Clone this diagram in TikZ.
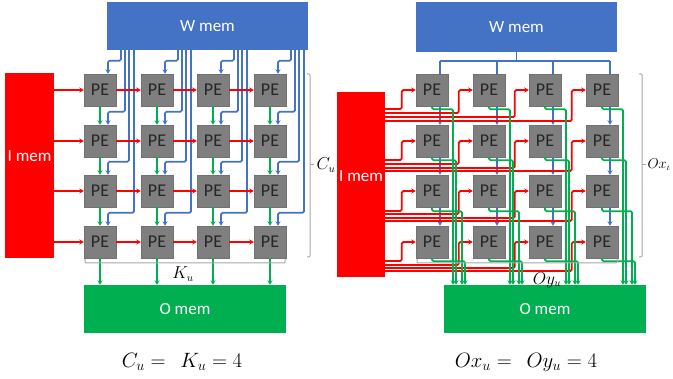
\documentclass[tikz,border=0pt]{standalone}
\usepackage{fontspec}
\setmainfont{Carlito}
\usetikzlibrary{calc,arrows.meta}
\definecolor{bluec}{HTML}{4472C4}
\definecolor{greenc}{HTML}{00B050}
\definecolor{gridgray}{HTML}{7F7F7F}
\definecolor{bracec}{HTML}{A6A6A6}
\tikzset{
  pe/.style={fill=gridgray,draw=gridgray!90!black,line width=.4pt,minimum width=32pt,minimum height=32pt,inner sep=0pt,font=\fontsize{18}{18}\selectfont,text=black!85},
  mem/.style={inner sep=0pt,font=\fontsize{17}{17}\selectfont,text=white},
  wire/.style={line width=1.7pt,rounded corners=1.5pt,-{Stealth[length=4.5pt,width=5pt]}},
  bluew/.style={wire,draw=bluec},
  redw/.style={wire,draw=red},
  greenw/.style={wire,draw=greenc},
  busw/.style={line width=1.7pt,draw=bluec},
  brk/.style={draw=bracec,line width=1pt,rounded corners=1pt},
  lab/.style={inner sep=0pt,font=\fontsize{16}{16}\selectfont},
  eqn/.style={inner sep=0pt,font=\fontsize{20}{20}\selectfont}
}
\begin{document}
\begin{tikzpicture}[x=1pt,y=-1pt]
\useasboundingbox (0,0) rectangle (673,379);
% memories
\node[mem,fill=bluec,minimum width=201pt,minimum height=48pt] (WL) at (207.5,26) {W mem};
\node[mem,fill=red,minimum width=49pt,minimum height=185pt] (IL) at (29.5,165.5) {};
\node[mem] (ILt) at (29.5,156) {I mem};
\node[mem,fill=greenc,minimum width=202pt,minimum height=48pt] (OL) at (185,309) {O mem};
\node[mem,fill=bluec,minimum width=201pt,minimum height=50pt] (WR) at (516.5,27) {W mem};
\node[mem,fill=red,minimum width=48pt,minimum height=185pt] (IR) at (361,184.5) {};
\node[mem] (IRt) at (361,176) {I mem};
\node[mem,fill=greenc,minimum width=202pt,minimum height=48pt] (OR) at (545,309) {O mem};
% PEs
\foreach \c/\xl/\xr in {1/100/432,2/157/489,3/213/545,4/270/602}
  \foreach \r/\yy in {1/90,2/141,3/191,4/242}{
    \node[pe] (L\c\r) at (\xl,\yy) {PE};
    \node[pe] (R\c\r) at (\xr,\yy) {PE};
  }
% ---- left panel wires
\foreach \c in {1,2,3,4}{
  \foreach \r/\dx in {1/21,2/25,3/29,4/34}{
    \coordinate (v) at ($(L\c\r.north)+(\dx,-13)$);
    \coordinate (t) at ($(L\c\r.north)+(8,0)$);
    \draw[bluew] (WL.south -| v) -- (v) -| (t);
  }
  \draw[greenw] (L\c1) -- (L\c2);
  \draw[greenw] (L\c2) -- (L\c3);
  \draw[greenw] (L\c3) -- (L\c4);
  \draw[greenw] (L\c4.south) -- (L\c4.south |- OL.north);
}
\foreach \r in {1,2,3,4}{
  \draw[redw] (IL.east |- L1\r) -- (L1\r);
  \draw[redw] (L1\r) -- (L2\r);
  \draw[redw] (L2\r) -- (L3\r);
  \draw[redw] (L3\r) -- (L4\r);
}
% ---- right panel wires
\coordinate (busl) at ($(R11.north)+(8,-13)$);
\coordinate (busr) at ($(R41.north)+(8,-13)$);
\draw[busw] (busl) -- (busr);
\draw[busw] (WR.south) -- (WR.south |- busl);
\foreach \c in {1,2,3,4}{
  \coordinate (t) at ($(R\c1.north)+(8,0)$);
  \draw[busw] (t |- busl) -- (t);
  \draw[bluew] ($(R\c1.south)+(8,0)$) -- ($(R\c2.north)+(8,0)$);
  \draw[bluew] ($(R\c2.south)+(8,0)$) -- ($(R\c3.north)+(8,0)$);
  \draw[bluew] ($(R\c3.south)+(8,0)$) -- ($(R\c4.north)+(8,0)$);
}
% red fan-out
\foreach \r/\ya/\yb/\yc/\yd in {1/19/23/27/31,2/19/23/27/30,3/20/23/27/30,4/19/23/26/29}{
  \foreach \c/\yo in {1/\ya,2/\yb,3/\yc,4/\yd}{
    \coordinate (h) at ($(R\c\r.west)+(-14,\yo)$);
    \draw[redw] (IR.east |- h) -- (h) |- (R\c\r.west);
  }
}
% green fan-in
\foreach \c in {1,2,3,4}{
  \foreach \r/\dx/\yo in {1/21/3,2/24/3,3/30/4,4/33/3}{
    \coordinate (s) at (R\c\r.south);
    \coordinate (g) at ($(s)+(\dx,\yo)$);
    \draw[greenw] (s) |- (g) -- (g |- OR.north);
  }
}
% brackets
\coordinate (cuT) at (310,74);
\coordinate (cuB) at (310,257);
\draw[brk] ($(cuT)+(-3,0)$) -- (cuT) -- (cuB) -- ($(cuB)+(-3,0)$);
\draw[brk] (310,165) -- (314,165) node[lab,right=2pt,text=black] (cu) {$C_u$};
\coordinate (kuL) at (85,259);
\coordinate (kuR) at (285,259);
\draw[brk] (kuL) -- ($(kuL)+(0,4)$) -- ($(kuR)+(0,4)$) -- (kuR);
\node[lab] (ku) at (183,274) {$K_u$};
\coordinate (oxT) at (642,74);
\coordinate (oxB) at (642,257);
\draw[brk] ($(oxT)+(-3,0)$) -- (oxT) -- (oxB) -- ($(oxB)+(-3,0)$);
\draw[brk] (642,165) -- (646,165) node[lab,right=1pt,text=black,font=\fontsize{14}{14}\selectfont] (ox) {$Ox_{\iota}$};
\coordinate (oyL) at (417,259);
\coordinate (oyR) at (617,259);
\draw[brk] (oyL) -- ($(oyL)+(0,4)$) -- ($(oyR)+(0,4)$) -- (oyR);
\node[lab] (oy) at (547,280) {$Oy_u$};
% equations
\node[eqn] (e1) at (182,362) {$C_u =\;\, K_u = 4$};
\node[eqn] (e2) at (526,362) {$Ox_u =\;\, Oy_u = 4$};
\end{tikzpicture}
\end{document}
